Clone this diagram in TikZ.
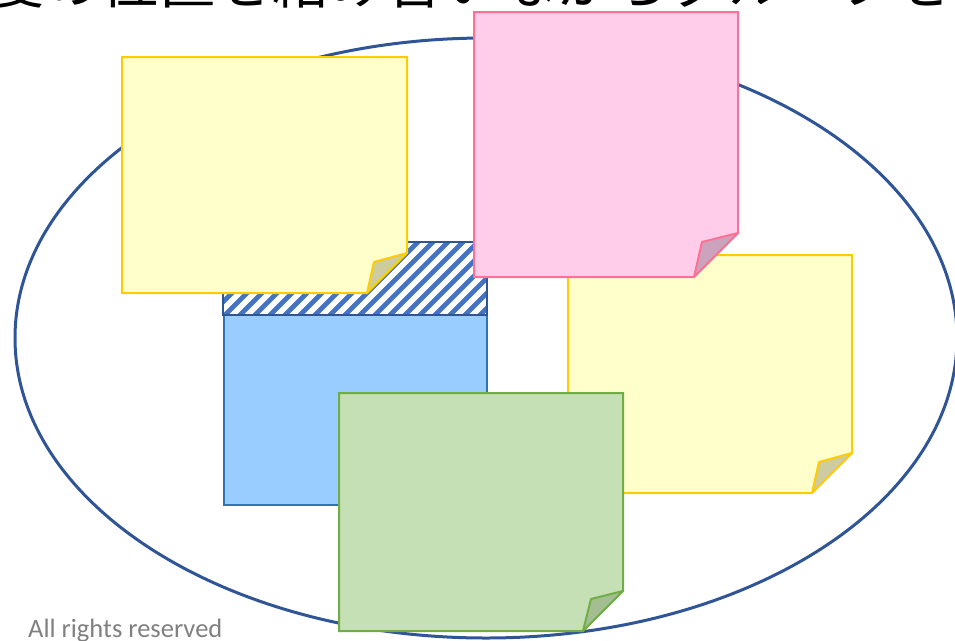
\documentclass[tikz,border=0pt]{standalone}
\usepackage{fontspec}
\setmainfont{Carlito}
\newfontfamily\cjkfont{Noto Sans CJK JP}
\definecolor{ellblue}{HTML}{2F5597}
\definecolor{stripeblue}{HTML}{4472C4}
\definecolor{boxblue}{HTML}{99CCFF}
\definecolor{boxblueline}{HTML}{2E75B6}
\definecolor{ynote}{HTML}{FFFFCC}
\definecolor{ynoteline}{HTML}{FFCC00}
\definecolor{yfold}{HTML}{CCCC9E}
\definecolor{pnote}{HTML}{FFCCE9}
\definecolor{pnoteline}{HTML}{FF7096}
\definecolor{pfold}{HTML}{CBA3BD}
\definecolor{gnote}{HTML}{C5E0B4}
\definecolor{gnoteline}{HTML}{70AD47}
\definecolor{gfold}{HTML}{A4BE91}
\definecolor{copygray}{HTML}{808080}
\tikzset{
  ynotestyle/.style={fill=ynote,draw=ynoteline,line width=2pt,line join=miter},
  yfoldstyle/.style={fill=yfold,draw=ynoteline,line width=2pt,line join=round},
  pnotestyle/.style={fill=pnote,draw=pnoteline,line width=2pt},
  pfoldstyle/.style={fill=pfold,draw=pnoteline,line width=2pt,line join=round},
  gnotestyle/.style={fill=gnote,draw=gnoteline,line width=2pt},
  gfoldstyle/.style={fill=gfold,draw=gnoteline,line width=2pt,line join=round},
  stripe/.style={draw=stripeblue,line width=4.8pt},
}
\begin{document}
\begin{tikzpicture}[x=1pt,y=-1pt]
\useasboundingbox (0,0) rectangle (955,640);
\begin{scope}
\clip (0,0) rectangle (955,640);
% title text (clipped at top)
\node[anchor=base west,inner sep=0pt,font=\cjkfont\fontsize{57}{57}\selectfont] (title) at (-13,3) {度の位置を絡み合いながらグループを};
% ellipse
\draw[ellblue,line width=3pt] (486,338) ellipse [x radius=471,y radius=300];
% blue box with hatched top
\draw[fill=boxblue,draw=boxblueline,line width=1.8pt] (224,315) rectangle (487,505);
\fill[white] (223,242) rectangle (487,315);
\begin{scope}
\clip (223,242) rectangle (487,315);
\foreach \i in {-8,...,30}{
  \draw[stripe] (200+\i*15,325) -- ++(95,-95);
}
\end{scope}
\draw[ellblue,line width=1.8pt] (223,242) rectangle (487,315);
% top-left yellow note
\draw[ynotestyle] (122,57) -- (407,57) -- (407,253) -- (367,293) -- (122,293) -- cycle;
\draw[yfoldstyle] (407,253) -- (374,262) -- (367,293) -- cycle;
% right yellow note
\draw[ynotestyle] (568,255) -- (852,255) -- (852,453) -- (812,493) -- (568,493) -- cycle;
\draw[yfoldstyle] (852,453) -- (819,462) -- (812,493) -- cycle;
% pink note
\draw[pnotestyle] (474,12) -- (738,12) -- (738,233) -- (694,277) -- (474,277) -- cycle;
\draw[pfoldstyle] (738,233) -- (702,242) -- (694,277) -- cycle;
% green note
\draw[gnotestyle] (339,393) -- (623,393) -- (623,591) -- (583,631) -- (339,631) -- cycle;
\draw[gfoldstyle] (623,591) -- (591,599) -- (583,631) -- cycle;
% copyright
\node[anchor=base west,inner sep=0pt,text=copygray,font=\fontsize{26.5}{26.5}\selectfont] (copy) at (28,637) {All rights reserved};
\end{scope}
\end{tikzpicture}
\end{document}
